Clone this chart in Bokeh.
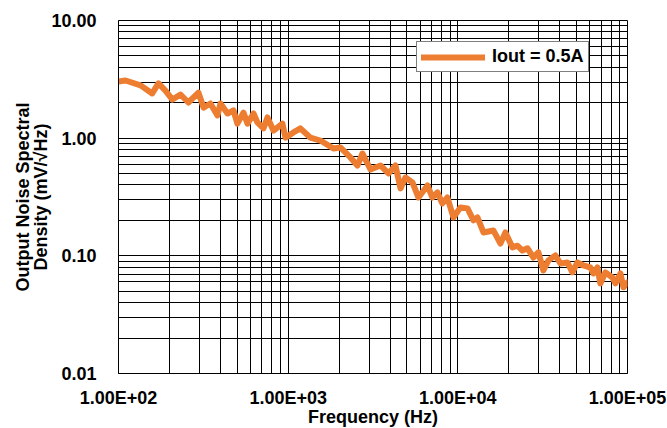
from bokeh.plotting import figure
from bokeh.models import FixedTicker, CustomJSTickFormatter, Title, Legend, LegendItem
from bokeh.embed import file_html
from bokeh.resources import INLINE

freq = [100, 110, 135, 158, 172, 189, 208, 232, 258, 296, 317, 348, 383, 399, 439, 476, 502, 545, 576, 625,
        659, 715, 755, 819, 925, 964, 1074, 1181, 1352, 1549, 1848, 2031, 2327, 2560, 2741, 3055, 3499, 3900,
        4289, 4592, 4912, 5400, 5862, 6622, 7085, 7580, 8110, 8680, 9420, 10360, 11400, 12360, 13050, 14160,
        16220, 17830, 19070, 20980, 22440, 24020, 25700, 27880, 29840, 31920, 34180, 37580, 40240, 44240,
        47330, 50680, 54950, 60420, 62930, 66490, 69190, 74100, 81480, 84910, 90820, 94650, 100000]
noise = [3.03, 3.09, 2.81, 2.40, 2.92, 2.54, 2.13, 2.35, 2.01, 2.44, 1.82, 1.97, 1.56, 1.97, 1.62, 1.72, 1.33,
         1.65, 1.33, 1.62, 1.36, 1.21, 1.50, 1.16, 1.33, 1.01, 1.12, 1.21, 1.01, 0.955, 0.817, 0.834, 0.686,
         0.586, 0.741, 0.542, 0.586, 0.501, 0.586, 0.374, 0.463, 0.421, 0.313, 0.396, 0.313, 0.346, 0.279,
         0.313, 0.212, 0.258, 0.253, 0.200, 0.212, 0.158, 0.164, 0.127, 0.158, 0.118, 0.122, 0.111, 0.116,
         0.0968, 0.107, 0.0752, 0.0914, 0.1008, 0.0861, 0.0879, 0.0723, 0.0879, 0.0828, 0.0796, 0.0708,
         0.0796, 0.0583, 0.0723, 0.0655, 0.0583, 0.0708, 0.0540, 0.0594]
series_name = "Iout = 0.5A"
x_ticks = [100, 1000, 10000, 100000]
y_ticks = [0.01, 0.1, 1, 10]
x_title = "Frequency (Hz)"
y_title_1 = "Output Noise Spectral"
y_title_2 = "Density (mV/\u221aHz)"

FONT = "Liberation Sans"
ORANGE = "#ED7D31"
FS = "18px"

def minors(majors):
    out = []
    for m in majors[:-1]:
        for k in range(2, 10):
            out.append(m * k)
    return out

p = figure(x_axis_type="log", y_axis_type="log",
           x_range=(100, 100000), y_range=(0.01, 10),
           frame_width=509, frame_height=353,
           min_border_left=118, min_border_top=20, min_border_right=39, min_border_bottom=54,
           output_backend="svg", toolbar_location=None)

p.xaxis.ticker = FixedTicker(ticks=x_ticks, minor_ticks=minors(x_ticks))
p.yaxis.ticker = FixedTicker(ticks=y_ticks, minor_ticks=minors(y_ticks))
p.xaxis.formatter = CustomJSTickFormatter(code="""
const e = Math.round(Math.log10(tick));
return "1.00E+" + (e < 10 ? "0" : "") + e;
""")
p.yaxis.formatter = CustomJSTickFormatter(code="return tick.toFixed(2);")

for ax in (p.xaxis, p.yaxis):
    ax.major_tick_line_color = None
    ax.minor_tick_line_color = None
    ax.axis_line_color = "black"
    ax.major_label_text_font = FONT
    ax.major_label_text_font_style = "bold"
    ax.major_label_text_font_size = FS
    ax.major_label_text_color = "black"

p.yaxis.major_label_standoff = 16
p.xaxis.major_label_standoff = 8
p.xaxis.axis_label = x_title
p.xaxis.axis_label_text_font = FONT
p.xaxis.axis_label_text_font_style = "bold"
p.xaxis.axis_label_text_font_size = FS
p.xaxis.axis_label_text_color = "black"
p.xaxis.axis_label_standoff = -4

for g in (p.xgrid, p.ygrid):
    g.grid_line_color = "black"
    g.grid_line_width = 1
    g.minor_grid_line_color = "black"
    g.minor_grid_line_width = 1

p.outline_line_color = "black"
p.outline_line_width = 1

r = p.line(freq, noise, line_color=ORANGE, line_width=6, line_join="round", line_cap="round")

legend = Legend(items=[LegendItem(label=series_name, renderers=[r])], location=(298, 301))
legend.border_line_color = "black"
legend.border_line_width = 1
legend.background_fill_color = "white"
legend.background_fill_alpha = 1
legend.label_text_font = FONT
legend.label_text_font_style = "bold"
legend.label_text_font_size = FS
legend.label_text_color = "black"
legend.glyph_width = 64
legend.glyph_height = 20
legend.label_standoff = 7
legend.padding = 4
legend.margin = 0
legend.spacing = 0
p.add_layout(legend)

for txt, so in ((y_title_2, -5), (y_title_1, -2)):
    p.add_layout(Title(text=txt, align="center", standoff=so,
                       text_font=FONT, text_font_style="bold", text_font_size=FS,
                       text_color="black"), "left")

open("out.html", "w").write(file_html(p, INLINE))
